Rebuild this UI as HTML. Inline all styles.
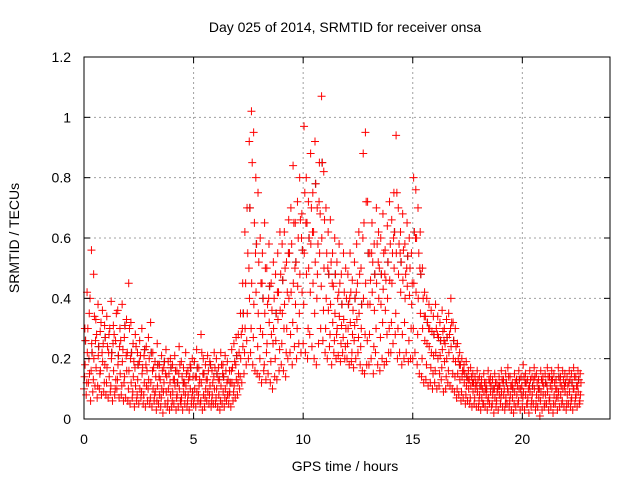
<!DOCTYPE html>
<html><head><meta charset="utf-8"><style>
html,body{margin:0;padding:0;background:#fff;}
svg{display:block;font-family:"Liberation Sans",sans-serif;}
</style></head><body>
<svg id="chart" width="640" height="480" viewBox="0 0 640 480">
<rect x="0" y="0" width="640" height="480" fill="#fff"/>
<g id="grid"></g>
<g id="gray"></g>
<g id="red"></g>
<g id="axes"></g>
<text x="345" y="32" font-size="14" text-anchor="middle">Day 025 of 2014, SRMTID for receiver onsa</text>
<text x="345" y="471" font-size="14" text-anchor="middle">GPS time / hours</text>
<text transform="translate(19,238) rotate(-90)" font-size="14" text-anchor="middle">SRMTID / TECUs</text>
</svg>
<script>
const xTicks=[0,5,10,15,20];
const yTicks=[0,0.2,0.4,0.6,0.8,1,1.2];
const yTickLabels=["0","0.2","0.4","0.6","0.8","1","1.2"];
const tStart=0, tStep=0.1;
const high=[.30,.42,.35,.56,.48,.33,.38,.29,.36,.31,
.34,.28,.39,.31,.26,.36,.30,.38,.27,.33,
.45,.32,.25,.28,.22,.26,.30,.21,.24,.27,
.32,.22,.19,.25,.18,.21,.17,.23,.19,.20,
.18,.21,.16,.24,.19,.17,.22,.16,.18,.20,
.19,.23,.17,.28,.20,.18,.21,.19,.16,.22,
.20,.17,.22,.18,.21,.19,.16,.23,.25,.27,
.28,.35,.45,.62,.70,.92,1.02,.95,.80,.75,
.60,.55,.65,.50,.58,.45,.52,.48,.55,.62,
.58,.62,.52,.66,.70,.84,.65,.72,.80,.68,
.97,.80,.72,.88,.75,.92,.70,.85,1.07,.82,
.70,.62,.66,.55,.60,.52,.58,.48,.55,.50,
.48,.55,.46,.52,.58,.62,.50,.88,.95,.72,
.55,.65,.58,.70,.62,.60,.68,.56,.64,.72,
.66,.75,.94,.70,.62,.68,.58,.65,.60,.55,
.80,.76,.70,.62,.50,.42,.40,.38,.36,.34,
.38,.34,.32,.36,.30,.33,.35,.40,.32,.30,
.25,.22,.20,.18,.19,.16,.17,.15,.14,.16,
.14,.13,.15,.12,.16,.14,.13,.15,.12,.14,.16,.13,.15,.17,.14,.12,.15,.13,.16,.14,
.18,.15,.13,.16,.14,.17,.15,.13,.16,.14,.15,.17,.14,.16,.15,.13,.17,.14,.16,.15,
.14,.16,.15,.17,.14,.16,.15];
const upper=[.26,.30,.40,.22,.34,.28,.24,.32,.25,.27,
.24,.30,.22,.28,.35,.21,.26,.23,.31,.22,
.30,.22,.19,.24,.18,.21,.17,.23,.16,.20,
.22,.17,.14,.18,.13,.16,.19,.14,.15,.17,
.13,.16,.12,.18,.14,.12,.15,.13,.17,.14,
.14,.17,.13,.22,.15,.13,.16,.18,.12,.17,
.15,.13,.18,.14,.16,.13,.12,.17,.19,.21,
.22,.28,.35,.45,.55,.70,.85,.65,.58,.52,
.45,.40,.50,.38,.44,.36,.40,.35,.42,.48,
.46,.50,.42,.55,.58,.65,.52,.60,.66,.56,
.75,.65,.60,.70,.62,.78,.58,.68,.85,.66,
.55,.48,.52,.44,.48,.40,.45,.38,.42,.40,
.38,.42,.36,.40,.45,.48,.38,.65,.72,.55,
.46,.52,.48,.58,.50,.48,.55,.46,.52,.58,
.55,.62,.75,.58,.52,.56,.48,.54,.50,.45,
.62,.60,.55,.48,.40,.34,.32,.30,.29,.28,
.30,.27,.26,.29,.25,.27,.28,.32,.26,.24,
.20,.18,.16,.15,.14,.13,.14,.12,.12,.13,
.11,.10,.12,.10,.13,.11,.10,.12,.10,.11,.13,.10,.12,.14,.11,.10,.12,.11,.13,.11,
.14,.12,.10,.13,.11,.14,.12,.10,.13,.11,.12,.14,.11,.13,.12,.10,.14,.11,.13,.12,
.11,.13,.12,.14,.11,.13,.12];
const mid=[.18,.22,.15,.25,.20,.17,.21,.16,.19,.18,
.17,.14,.20,.16,.13,.18,.15,.19,.14,.16,
.16,.12,.14,.11,.13,.10,.15,.12,.11,.13,
.12,.10,.09,.11,.08,.10,.12,.09,.10,.08,
.09,.11,.08,.10,.07,.09,.11,.08,.10,.09,
.10,.09,.11,.12,.08,.10,.09,.11,.08,.10,
.10,.08,.11,.09,.10,.08,.09,.12,.11,.13,
.15,.20,.24,.30,.35,.40,.45,.38,.42,.35,
.30,.28,.35,.25,.32,.28,.30,.26,.33,.36,
.35,.38,.30,.40,.42,.45,.38,.44,.48,.42,
.55,.48,.50,.58,.45,.52,.48,.55,.60,.50,
.40,.36,.38,.32,.35,.30,.34,.31,.33,.30,
.30,.32,.28,.31,.33,.35,.30,.40,.45,.38,
.38,.42,.36,.45,.40,.38,.43,.36,.40,.46,
.45,.50,.55,.48,.42,.46,.40,.44,.41,.38,
.45,.42,.40,.35,.30,.26,.25,.24,.22,.21,
.22,.20,.21,.23,.19,.20,.22,.24,.20,.19,
.15,.13,.14,.12,.11,.10,.11,.09,.10,.09,
.08,.07,.09,.08,.07,.09,.08,.07,.09,.08,.09,.08,.07,.09,.08,.07,.09,.08,.10,.08,
.09,.08,.07,.09,.08,.10,.08,.07,.09,.08,.08,.09,.07,.10,.08,.07,.09,.08,.10,.09,
.08,.09,.07,.10,.08,.09,.08];
const lower=[.14,.12,.20,.16,.13,.26,.11,.15,.22,.12,
.12,.22,.11,.25,.10,.13,.24,.11,.12,.21,
.10,.20,.09,.17,.08,.19,.09,.08,.18,.10,
.07,.16,.08,.06,.14,.07,.09,.15,.06,.12,
.06,.13,.07,.15,.05,.12,.08,.06,.14,.07,
.07,.14,.08,.06,.15,.07,.13,.08,.06,.14,
.07,.13,.06,.15,.07,.12,.08,.16,.09,.18,
.12,.14,.30,.22,.26,.50,.30,.27,.55,.24,
.20,.45,.18,.22,.40,.19,.25,.20,.42,.23,
.25,.30,.22,.55,.28,.32,.50,.30,.35,.60,
.38,.65,.30,.42,.62,.35,.40,.72,.44,.36,
.30,.50,.28,.45,.26,.28,.42,.25,.27,.24,
.25,.40,.22,.26,.42,.27,.24,.60,.28,.26,
.28,.55,.24,.30,.52,.27,.32,.48,.28,.30,
.32,.60,.35,.30,.55,.28,.32,.50,.26,.30,
.30,.60,.28,.50,.20,.34,.18,.30,.17,.15,
.16,.28,.15,.17,.26,.14,.16,.30,.15,.14,
.10,.18,.09,.16,.08,.13,.07,.12,.07,.11,
.06,.11,.05,.10,.06,.12,.05,.10,.06,.11,.07,.12,.05,.10,.06,.11,.05,.13,.06,.10,
.07,.12,.05,.11,.06,.13,.05,.10,.06,.12,.05,.11,.06,.13,.05,.10,.07,.12,.06,.11,
.05,.12,.06,.10,.07,.11,.06];
const low=[.10,.08,.12,.06,.09,.11,.07,.10,.08,.09,
.08,.07,.09,.06,.08,.10,.07,.08,.06,.07,
.06,.05,.07,.04,.06,.05,.07,.05,.04,.06,
.05,.04,.06,.03,.05,.04,.02,.05,.04,.03,
.04,.05,.03,.04,.06,.03,.05,.04,.03,.05,
.05,.04,.06,.05,.03,.04,.06,.05,.04,.05,
.05,.04,.03,.05,.04,.06,.05,.04,.06,.07,
.08,.10,.12,.15,.18,.20,.22,.18,.16,.15,
.14,.12,.16,.13,.15,.12,.10,.14,.13,.16,
.18,.16,.14,.20,.22,.18,.24,.20,.25,.22,
.25,.22,.20,.28,.24,.20,.18,.25,.30,.26,
.22,.20,.24,.18,.22,.20,.21,.19,.22,.20,
.20,.18,.19,.17,.20,.22,.18,.16,.15,.18,
.18,.20,.15,.22,.18,.16,.20,.18,.19,.22,
.22,.25,.28,.20,.22,.18,.20,.22,.19,.20,
.20,.22,.18,.15,.14,.12,.13,.11,.12,.10,
.12,.10,.11,.13,.09,.10,.12,.11,.10,.09,
.07,.08,.06,.07,.05,.06,.05,.04,.05,.04,
.04,.03,.05,.04,.03,.05,.04,.02,.04,.03,.05,.04,.03,.05,.04,.03,.02,.04,.05,.03,
.04,.03,.05,.02,.04,.05,.03,.04,.01,.03,.04,.05,.03,.04,.02,.05,.03,.04,.05,.04,
.03,.05,.04,.03,.05,.04,.05];

const L=84,R=610,T=57,B=419,xMax=24,yMax=1.2;
const xs=v=>L+(R-L)*v/xMax;
const ys=v=>B-(B-T)*v/yMax;
const NS="http://www.w3.org/2000/svg";
function mk(tag,attrs,parent){const e=document.createElementNS(NS,tag);for(const k in attrs)e.setAttribute(k,attrs[k]);parent.appendChild(e);return e;}
const grid=document.getElementById('grid'),axes=document.getElementById('axes');
xTicks.forEach(t=>{
  const x=xs(t);
  if(t>0){const g=mk('line',{x1:x,y1:T,x2:x,y2:B,stroke:'#a0a0a0','stroke-dasharray':'2,3','stroke-width':1},grid);
  
  }
  mk('line',{x1:x,y1:B,x2:x,y2:B-6,stroke:'#000'},axes);
  mk('line',{x1:x,y1:T,x2:x,y2:T+6,stroke:'#000'},axes);
  const lb=mk('text',{x:x,y:444,'font-size':14,'text-anchor':'middle'},axes);
  lb.textContent=String(t);
  
  
});
yTicks.forEach((t,i)=>{
  const y=ys(t);
  if(t>0&&t<yMax){const g=mk('line',{x1:L,y1:y,x2:R,y2:y,stroke:'#a0a0a0','stroke-dasharray':'2,3','stroke-width':1},grid);
  
  }
  mk('line',{x1:L,y1:y,x2:L+6,y2:y,stroke:'#000'},axes);
  mk('line',{x1:R,y1:y,x2:R-6,y2:y,stroke:'#000'},axes);
  const lb=mk('text',{x:71,y:y+5,'font-size':14,'text-anchor':'end'},axes);
  lb.textContent=yTickLabels[i];
  
  
});
const frame=mk('rect',{x:L,y:T,width:R-L,height:B-T,fill:'none',stroke:'#000','stroke-width':1},axes);



function plus(g,t,v,color){
  const x=xs(t),y=ys(v),s=4;
  const p=mk('path',{d:`M${x-s},${y}H${x+s}M${x},${y-s}V${y+s}`,stroke:color,'stroke-width':1,fill:'none'},g);
  
  
}
const gray=document.getElementById('gray'),red=document.getElementById('red');
upper.forEach((v,i)=>{if(i%3===0)plus(gray,tStart+tStep*i+0.06,v,'#404040');});
const series=[[low,0],[lower,0.025],[mid,0.05],[upper,0.075],[high,0.04]];
series.forEach(([arr,off])=>arr.forEach((v,i)=>plus(red,tStart+tStep*i+off,v,'#ff0000')));
</script>
</body></html>
